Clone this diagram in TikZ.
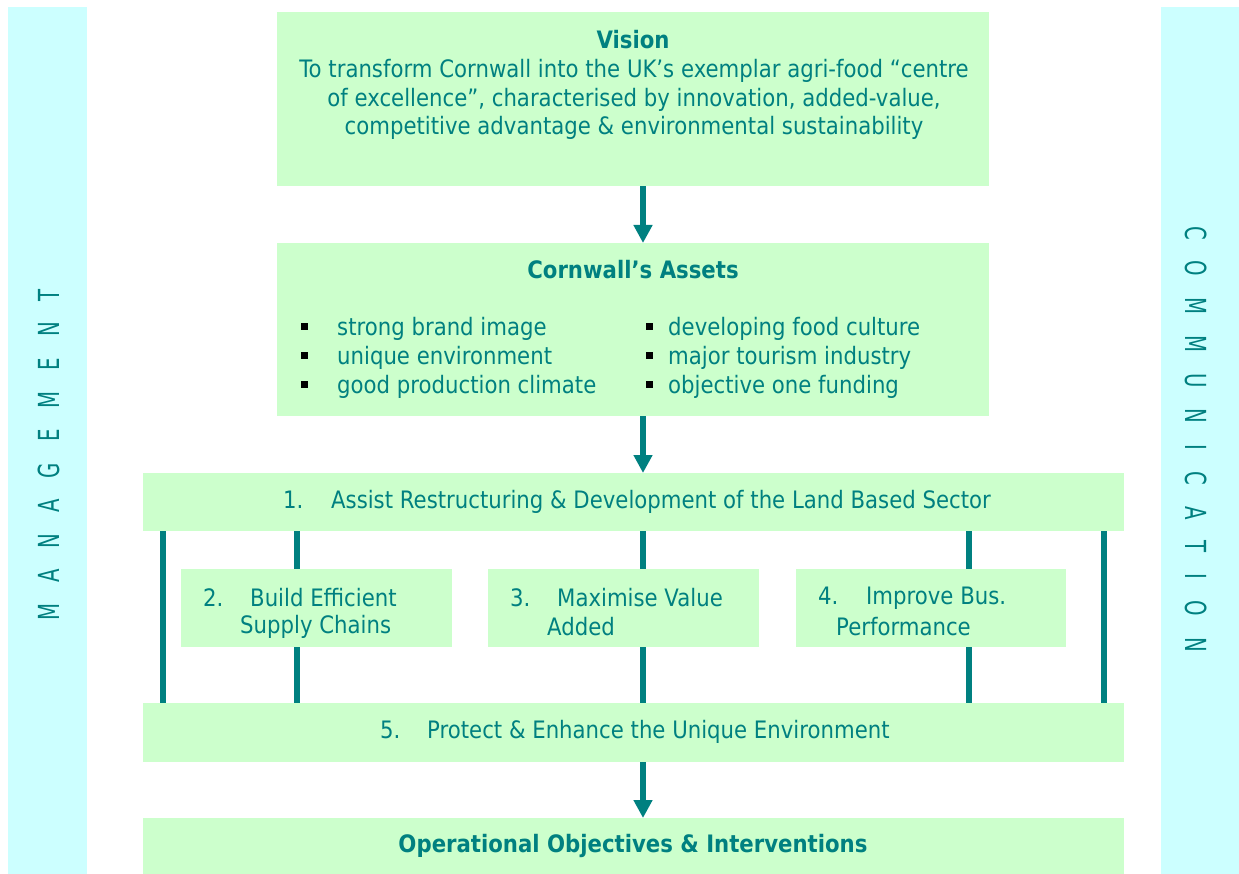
\documentclass[tikz,border=0pt]{standalone}
\usepackage{fontspec}
\setmainfont{DejaVu Sans}[FakeStretch=0.885]
\newfontfamily\sidefont{DejaVu Sans}[FakeStretch=0.68]
\usetikzlibrary{arrows.meta}
\definecolor{teal}{HTML}{008080}
\definecolor{gfill}{HTML}{CCFFCC}
\definecolor{cfill}{HTML}{CCFFFF}
\newcommand\lsp{\hspace{21pt}}
\begin{document}
\begin{tikzpicture}[x=1pt,y=-1pt,
  gbox/.style={fill=gfill,draw=none,inner sep=0pt,anchor=north west},
  sidebar/.style={fill=cfill,draw=none,inner sep=0pt,anchor=north west},
  txt/.style={text=teal,inner sep=0pt,font=\fontsize{24}{28.6}\selectfont},
  btxt/.style={txt,font=\fontsize{24}{28.6}\selectfont\bfseries},
  sidetxt/.style={text=teal,inner sep=0pt,font=\sidefont\fontsize{29}{32}\selectfont},
  arr/.style={draw=teal,line width=6pt,-{Triangle[width=18pt,length=18pt]}},
  conn/.style={draw=teal,line width=5.5pt},
  bullet/.style={fill=black,inner sep=0pt,minimum width=7pt,minimum height=7pt}]
\useasboundingbox (0,0) rectangle (1239,874);
% side bars
\node[sidebar,minimum width=79pt,minimum height=867pt] (mgmt) at (8,7) {};
\node[sidebar,minimum width=78pt,minimum height=867pt] (comm) at (1161,7) {};
\node[sidetxt,rotate=90] (mgmtlbl) at (49,455)
  {M\lsp A\lsp N\lsp A\lsp G\lsp E\lsp M\lsp E\lsp N\lsp T};
\node[sidetxt,rotate=-90] (commlbl) at (1196,439)
  {C\lsp O\lsp M\lsp M\lsp U\lsp N\lsp I\lsp C\lsp A\lsp T\lsp I\lsp O\lsp N};
% boxes
\node[gbox,minimum width=712pt,minimum height=174pt] (vision) at (277,12) {};
\node[gbox,minimum width=712pt,minimum height=173pt] (assets) at (277,243) {};
\node[gbox,minimum width=981pt,minimum height=58pt] (b1) at (143,473) {};
\node[gbox,minimum width=271pt,minimum height=78pt] (b2) at (181,569) {};
\node[gbox,minimum width=271pt,minimum height=78pt] (b3) at (488,569) {};
\node[gbox,minimum width=270pt,minimum height=78pt] (b4) at (796,569) {};
\node[gbox,minimum width=981pt,minimum height=59pt] (b5) at (143,703) {};
\node[gbox,minimum width=981pt,minimum height=56pt] (ops) at (143,818) {};
% text
\node[btxt] (vt) at (633,40) {Vision};
\node[txt,align=center] (vbody) at (634,99.5) {To transform Cornwall into the UK’s exemplar agri-food “centre\\of excellence”, characterised by innovation, added-value,\\competitive advantage \& environmental sustainability};
\node[btxt] (at) at (633,270) {Cornwall’s Assets};
\node[bullet] (bl1) at (304.5,326.5) {};
\node[bullet] (bl2) at (304.5,355.5) {};
\node[bullet] (bl3) at (304.5,384.5) {};
\node[bullet] (br1) at (649,326.5) {};
\node[bullet] (br2) at (649,355.5) {};
\node[bullet] (br3) at (649,384.5) {};
\node[txt,anchor=west] (al1) at (337,329) {strong brand image};
\node[txt,anchor=west] (al2) at (337,358) {unique environment};
\node[txt,anchor=west] (al3) at (337,387) {good production climate};
\node[txt,anchor=west] (ar1) at (668,329) {developing food culture};
\node[txt,anchor=west] (ar2) at (668,358) {major tourism industry};
\node[txt,anchor=west] (ar3) at (668,387) {objective one funding};
\node[txt,anchor=west] (t1) at (283,502) {\makebox[48pt][l]{1.}Assist Restructuring \& Development of the Land Based Sector};
\node[txt,anchor=west] (t2a) at (203,598) {\makebox[47pt][l]{2.}Build Efficient};
\node[txt,anchor=west] (t2b) at (240,627) {Supply Chains};
\node[txt,anchor=west] (t3a) at (510,598) {\makebox[47pt][l]{3.}Maximise Value};
\node[txt,anchor=west] (t3b) at (547,627) {Added};
\node[txt,anchor=west] (t4a) at (818,598) {\makebox[48pt][l]{4.}Improve Bus.};
\node[txt,anchor=west] (t4b) at (836,627) {Performance};
\node[txt,anchor=west] (t5) at (380,732) {\makebox[47pt][l]{5.}Protect \& Enhance the Unique Environment};
\node[btxt] (opt) at (633,846) {Operational Objectives \& Interventions};
% connector columns
\coordinate (xa) at (163,0);
\coordinate (xb) at (297,0);
\coordinate (xc) at (643,0);
\coordinate (xd) at (969,0);
\coordinate (xe) at (1104,0);
\draw[arr] (vision.south -| xc) -- (assets.north -| xc);
\draw[arr] (assets.south -| xc) -- (b1.north -| xc);
\draw[arr] (b5.south -| xc) -- (ops.north -| xc);
\draw[conn] (b1.south -| xa) -- (b5.north -| xa);
\draw[conn] (b1.south -| xe) -- (b5.north -| xe);
\draw[conn] (b1.south -| xb) -- (b2.north -| xb);
\draw[conn] (b2.south -| xb) -- (b5.north -| xb);
\draw[conn] (b1.south -| xc) -- (b3.north -| xc);
\draw[conn] (b3.south -| xc) -- (b5.north -| xc);
\draw[conn] (b1.south -| xd) -- (b4.north -| xd);
\draw[conn] (b4.south -| xd) -- (b5.north -| xd);
\end{tikzpicture}
\end{document}
